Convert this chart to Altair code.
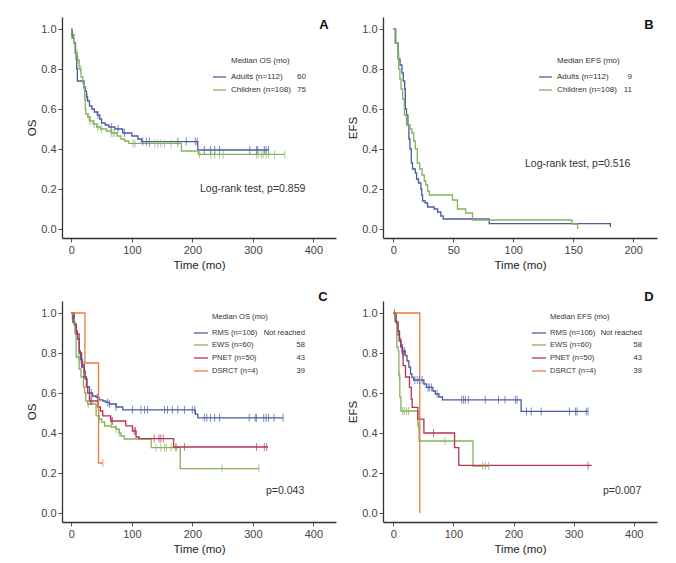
import altair as alt
import pandas as pd

FONT = "Liberation Sans, Arial, sans-serif"

BLUE = "#4a5ba0"
GREEN = "#84b25c"
RED = "#b5334f"
ORANGE = "#f07c3a"

# ---------------- Panel A : OS, adults vs children ----------------
a_adult_t = [0, 1, 4, 7, 8, 9, 10, 21, 23, 25, 27, 30, 34, 38, 43, 47, 50, 56, 62, 72, 85, 100, 110, 116, 209, 326]
a_adult_s = [1.0, 0.97, 0.93, 0.88, 0.85, 0.80, 0.74, 0.71, 0.69, 0.66, 0.64, 0.615, 0.60, 0.585, 0.57, 0.55, 0.53, 0.52, 0.51, 0.50, 0.48, 0.465, 0.45, 0.437, 0.395, 0.395]
a_adult_c = [1, 2, 26, 44, 66, 77, 88, 118, 124, 129, 176, 190, 205, 208, 220, 230, 237, 245, 295, 306, 308, 319, 322, 326]

a_child_t = [0, 1, 4, 6, 10, 13, 16, 19, 21, 22, 23, 24, 27, 31, 36, 42, 48, 58, 66, 76, 82, 88, 95, 182, 210, 353]
a_child_s = [1.0, 0.97, 0.93, 0.88, 0.845, 0.80, 0.76, 0.73, 0.70, 0.65, 0.60, 0.575, 0.56, 0.54, 0.525, 0.51, 0.50, 0.49, 0.48, 0.465, 0.45, 0.44, 0.428, 0.39, 0.373, 0.373]
a_child_c = [1, 9, 11, 15, 29, 31, 38, 44, 50, 66, 69, 72, 102, 105, 129, 138, 143, 148, 154, 165, 176, 212, 231, 237, 245, 251, 306, 309, 314, 317, 322, 326, 336, 353]

# ---------------- Panel B : EFS, adults vs children ----------------
b_adult_t = [0, 2, 4, 5.6, 7.2, 8.3, 9.5, 10, 11, 12.2, 13, 13.9, 15, 16, 18.3, 19.4, 21, 23, 23.7, 24.4, 26.6, 28.6, 34, 37, 39.6, 41.6, 80, 181]
b_adult_s = [1.0, 0.93, 0.85, 0.82, 0.78, 0.74, 0.70, 0.60, 0.57, 0.52, 0.45, 0.40, 0.33, 0.30, 0.28, 0.25, 0.23, 0.20, 0.17, 0.14, 0.13, 0.11, 0.10, 0.085, 0.065, 0.05, 0.027, 0.01]
b_adult_c = []

b_child_t = [0, 1.4, 3.6, 4.5, 5.5, 6.4, 7.8, 9.2, 11, 14, 15.5, 17, 18.3, 20, 22, 24, 25.8, 27, 28.6, 30, 49.3, 53.5, 60.4, 66, 149, 153.7]
b_child_s = [1.0, 0.93, 0.88, 0.80, 0.75, 0.70, 0.65, 0.57, 0.52, 0.50, 0.48, 0.44, 0.40, 0.33, 0.30, 0.27, 0.24, 0.22, 0.19, 0.17, 0.145, 0.10, 0.08, 0.045, 0.025, 0.0]
b_child_c = []

# ---------------- Panel C : OS by histology ----------------
c_rms_t = [0, 2, 5, 8, 10, 13, 15, 18, 21.5, 23, 26, 30, 35, 41, 46, 52, 57, 63, 74, 85, 205, 209, 350]
c_rms_s = [1.0, 0.97, 0.94, 0.91, 0.87, 0.81, 0.77, 0.74, 0.71, 0.67, 0.63, 0.60, 0.585, 0.578, 0.566, 0.56, 0.553, 0.545, 0.53, 0.516, 0.494, 0.476, 0.476]
c_rms_c = [2, 4, 16, 21, 33, 43, 60, 63, 74, 101, 115, 121, 126, 154, 159, 167, 176, 187, 200, 204, 220, 224, 230, 237, 245, 294, 304, 306, 318, 322, 326, 335, 350]

c_ews_t = [0, 3, 6, 8, 13, 16, 20, 22, 24, 27, 41, 46, 50, 55, 66, 74, 79, 82, 87.6, 132, 180, 310]
c_ews_s = [1.0, 0.955, 0.90, 0.78, 0.72, 0.68, 0.63, 0.60, 0.56, 0.545, 0.486, 0.47, 0.455, 0.435, 0.43, 0.42, 0.40, 0.385, 0.37, 0.327, 0.222, 0.222]
c_ews_c = [5, 11.6, 28, 46, 74, 79, 140, 148, 154, 157, 165, 173, 249, 310]

c_pnet_t = [0, 5, 8, 13, 17, 21, 25, 27, 30, 44, 48, 52, 65, 90, 101, 107, 112, 169, 325]
c_pnet_s = [1.0, 0.946, 0.896, 0.80, 0.73, 0.68, 0.63, 0.60, 0.56, 0.53, 0.51, 0.486, 0.46, 0.436, 0.41, 0.38, 0.372, 0.33, 0.33]
c_pnet_c = [32, 34, 66, 68, 104, 106, 137, 145, 148, 152, 173, 187, 306, 319, 323]

c_dsrct_t = [0, 22.5, 45, 52]
c_dsrct_s = [1.0, 0.75, 0.25, 0.25]
c_dsrct_c = [52]

# ---------------- Panel D : EFS by histology ----------------
d_rms_t = [0, 3, 5, 8, 10, 13, 15, 20, 23, 26, 28.7, 31, 34, 51, 55, 66, 70, 76, 82, 212.7, 324]
d_rms_s = [1.0, 0.96, 0.946, 0.89, 0.86, 0.84, 0.81, 0.787, 0.76, 0.73, 0.695, 0.678, 0.665, 0.645, 0.628, 0.61, 0.595, 0.58, 0.566, 0.508, 0.508]
d_rms_c = [2, 16, 18.8, 36, 40, 43.6, 48, 58, 60, 63.5, 73, 114, 117, 120, 125, 153, 175, 186, 203, 206, 221.6, 229.4, 246, 293, 303, 305.6, 321, 324]

d_ews_t = [0, 3, 6, 8.3, 9.4, 11, 12.8, 41, 43, 132.6, 160]
d_ews_s = [1.0, 0.963, 0.83, 0.81, 0.687, 0.58, 0.51, 0.435, 0.36, 0.235, 0.235]
d_ews_c = [2, 10, 15.5, 18.3, 22, 25.5, 42, 86, 148.6, 153, 158.6]

d_pnet_t = [0, 5, 8, 10.5, 12.5, 15, 16.5, 20.4, 27, 30, 31.5, 41, 51, 102, 109, 330]
d_pnet_s = [1.0, 0.955, 0.91, 0.87, 0.83, 0.80, 0.737, 0.68, 0.628, 0.57, 0.528, 0.469, 0.40, 0.327, 0.238, 0.238]
d_pnet_c = [16, 67, 324]

d_dsrct_t = [0, 44.2]
d_dsrct_s = [1.0, 0.0]
d_dsrct_c = []

# ---------------- texts ----------------
age_labels = ["Adults (n=112)", "Children (n=108)"]
os_age_medians = ["60", "75"]
efs_age_medians = ["9", "11"]
hist_labels = ["RMS (n=106)", "EWS (n=60)", "PNET (n=50)", "DSRCT (n=4)"]
hist_medians = ["Not reached", "58", "43", "39"]

x_ticks_long = [0, 100, 200, 300, 400]
x_ticks_short = [0, 50, 100, 150, 200]
y_ticks = [0.0, 0.2, 0.4, 0.6, 0.8, 1.0]

W, H = 274, 221
YDOM = [-0.045, 1.06]


def surv_at(c, t, s):
    v = s[0]
    for ti, si in zip(t, s):
        if ti <= c:
            v = si
    return v


def one():
    return pd.DataFrame({"k": [0]})


def panel(curves, xdom, xticks, ytitle, letter, letter_xy, leg_title, leg_title_xy,
          labels, medians, line_x, text_x, val_x, row_y, ptext, ptext_xy, leg_fs):
    names = [c[0] for c in curves]
    colors = [c[1] for c in curves]
    lines, cens = [], []
    for name, col, t, s, cs in curves:
        for ti, si in zip(t, s):
            lines.append({"grp": name, "t": ti, "s": si})
        for c in cs:
            cens.append({"grp": name, "t": c, "s": surv_at(c, t, s)})
    ldf = pd.DataFrame(lines)
    cdf = pd.DataFrame(cens) if cens else pd.DataFrame({"grp": [], "t": [], "s": []})

    xs = alt.Scale(domain=xdom, nice=False, zero=False)
    ys = alt.Scale(domain=YDOM, nice=False, zero=False)
    color = alt.Color("grp:N", scale=alt.Scale(domain=names, range=colors), legend=None)
    xenc = alt.X("t:Q", scale=xs, axis=alt.Axis(values=xticks, title="Time (mo)", format="d"))
    yenc = alt.Y("s:Q", scale=ys, axis=alt.Axis(values=y_ticks, title=ytitle, format=".1f"))

    layers = []
    layers.append(alt.Chart(ldf).mark_line(interpolate="step-after", strokeWidth=1.3).encode(
        x=xenc, y=yenc, color=color, detail="grp:N", order="t:Q"))
    if len(cdf):
        layers.append(alt.Chart(cdf).mark_tick(orient="vertical", size=8, thickness=1).encode(
            x=alt.X("t:Q", scale=xs), y=alt.Y("s:Q", scale=ys), color=color))

    txt = dict(font=FONT, baseline="middle", color="#333")
    layers.append(alt.Chart(one()).mark_text(text=letter, fontSize=13, fontWeight="bold",
                                             align="center", font=FONT, baseline="middle", color="#111").encode(
        x=alt.value(letter_xy[0]), y=alt.value(letter_xy[1])))
    layers.append(alt.Chart(one()).mark_text(text=leg_title, fontSize=leg_fs, align="left", **txt).encode(
        x=alt.value(leg_title_xy[0]), y=alt.value(leg_title_xy[1])))
    for i, (lab, med) in enumerate(zip(labels, medians)):
        yy = row_y[i]
        layers.append(alt.Chart(one()).mark_rule(color=colors[i], strokeWidth=1.3).encode(
            x=alt.value(line_x[0]), x2=alt.value(line_x[1]), y=alt.value(yy)))
        layers.append(alt.Chart(one()).mark_text(text=lab, fontSize=leg_fs, align="left", **txt).encode(
            x=alt.value(text_x), y=alt.value(yy)))
        layers.append(alt.Chart(one()).mark_text(text=med, fontSize=leg_fs, align="right", **txt).encode(
            x=alt.value(val_x), y=alt.value(yy)))
    layers.append(alt.Chart(one()).mark_text(text=ptext, fontSize=10.5, align="left", **txt).encode(
        x=alt.value(ptext_xy[0]), y=alt.value(ptext_xy[1])))
    return alt.layer(*layers).properties(width=W, height=H)


pA = panel([("Adults", BLUE, a_adult_t, a_adult_s, a_adult_c),
            ("Children", GREEN, a_child_t, a_child_s, a_child_c)],
           [-15.4, 437.5], x_ticks_long, "OS", "A", (262, 8),
           "Median OS (mo)", (169, 44), age_labels, os_age_medians,
           (151, 164), 169, 244, [60, 73], "Log-rank test, p=0.859", (138, 172), 8)

pB = panel([("Adults", BLUE, b_adult_t, b_adult_s, b_adult_c),
            ("Children", GREEN, b_child_t, b_child_s, b_child_c)],
           [-8.6, 219.9], x_ticks_short, "EFS", "B", (266, 8),
           "Median EFS (mo)", (174, 44), age_labels, efs_age_medians,
           (156, 169), 174, 249, [60, 73], "Log-rank test, p=0.516", (142, 147), 8)

pC = panel([("RMS", BLUE, c_rms_t, c_rms_s, c_rms_c),
            ("EWS", GREEN, c_ews_t, c_ews_s, c_ews_c),
            ("PNET", RED, c_pnet_t, c_pnet_s, c_pnet_c),
            ("DSRCT", ORANGE, c_dsrct_t, c_dsrct_s, c_dsrct_c)],
           [-15.4, 437.5], x_ticks_long, "OS", "C", (261, -4),
           "Median OS (mo)", (150, 16), hist_labels, hist_medians,
           (132, 146), 150, 243, [32, 44, 57, 70], "p=0.043", (204, 190), 7.6)

pD = panel([("RMS", BLUE, d_rms_t, d_rms_s, d_rms_c),
            ("EWS", GREEN, d_ews_t, d_ews_s, d_ews_c),
            ("PNET", RED, d_pnet_t, d_pnet_s, d_pnet_c),
            ("DSRCT", ORANGE, d_dsrct_t, d_dsrct_s, d_dsrct_c)],
           [-17.0, 438.6], x_ticks_long, "EFS", "D", (266, -4),
           "Median EFS (mo)", (167, 16), hist_labels, hist_medians,
           (149, 163), 167, 259, [32, 44, 57, 70], "p=0.007", (220, 190), 7.6)

chart = alt.concat(pA, pB, pC, pD, columns=2, spacing={"row": 63, "column": 47},
                   bounds="flush").resolve_scale(color="independent").properties(
    padding={"left": 18, "top": 9, "right": 5, "bottom": 5},
    background="white",
).configure_view(stroke=None).configure_axis(
    grid=False,
    domainColor="#333", domainWidth=1.3,
    tickColor="#555", tickSize=4, tickWidth=1,
    labelColor="#444", labelFont=FONT, labelFontSize=11, labelPadding=2,
    titleFont=FONT, titleFontSize=11.5, titleFontWeight="normal", titleColor="#222",
).configure_axisX(titlePadding=4).configure_axisY(titlePadding=3)

chart.save("out.html", embed_options={"renderer": "svg", "actions": False})
